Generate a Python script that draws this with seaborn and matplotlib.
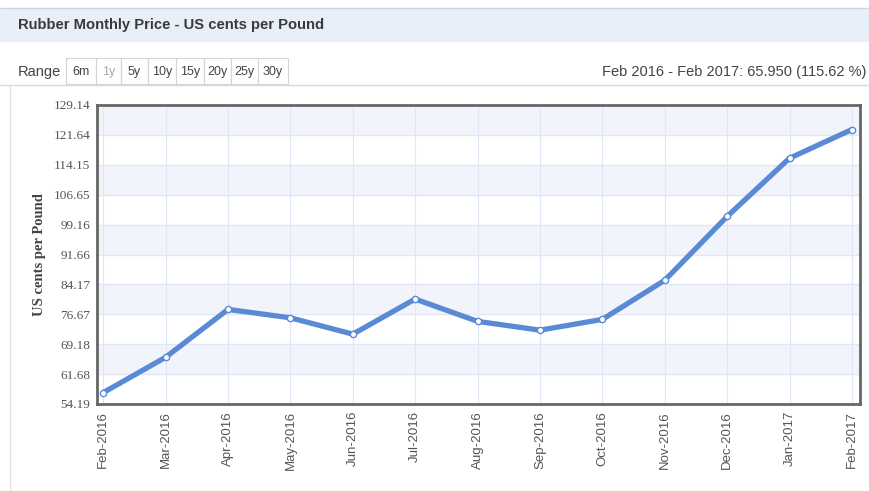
import pandas as pd
import numpy as np
import matplotlib.pyplot as plt
import seaborn as sns
from matplotlib.patches import Rectangle

months = ['Feb-2016', 'Mar-2016', 'Apr-2016', 'May-2016', 'Jun-2016', 'Jul-2016',
          'Aug-2016', 'Sep-2016', 'Oct-2016', 'Nov-2016', 'Dec-2016', 'Jan-2017', 'Feb-2017']
price = [57.04, 65.9, 77.9, 75.8, 71.7, 80.5, 74.9, 72.7, 75.4, 85.2, 101.2, 115.8, 122.99]
yticks = [54.19, 61.68, 69.18, 76.67, 84.17, 91.66, 99.16, 106.65, 114.15, 121.64, 129.14]
ranges = ['6m', '1y', '5y', '10y', '15y', '20y', '25y', '30y']

sns.set_style('white')
plt.rcParams['font.family'] = ['Liberation Sans', 'DejaVu Sans']

df = pd.DataFrame({'pos': np.arange(len(months)), 'price': price})

fig = plt.figure(figsize=(8.69, 4.91), dpi=100)

# header band
fig.patches.append(Rectangle((0, 1 - 42 / 491), 1, 34 / 491, transform=fig.transFigure,
                             facecolor='#e9eff9', edgecolor='none', zorder=0))
fig.add_artist(plt.Line2D([0, 1], [1 - 8 / 491] * 2, color='#c9d6ea', lw=1))
fig.text(18 / 869, 1 - 25 / 491, 'Rubber Monthly Price - US cents per Pound',
         fontsize=10.6, fontweight='bold', color='#3a3a3a', va='center')

# range selector
fig.text(18 / 869, 1 - 72 / 491, 'Range', fontsize=10.5, color='#444444', va='center')
xs = [66, 96, 121, 148, 176, 204, 231, 258, 288]
for i, lab in enumerate(ranges):
    x0, x1 = xs[i], xs[i + 1]
    fig.patches.append(Rectangle((x0 / 869, 1 - 84 / 491), (x1 - x0) / 869, 26 / 491,
                                 transform=fig.transFigure, facecolor='white',
                                 edgecolor='#d4d4d4', lw=0.8))
    fig.text((x0 + x1) / 2 / 869, 1 - 72 / 491, lab, fontsize=9, ha='center', va='center',
             color='#aaaaaa' if lab == '1y' else '#444444')
fig.text(866 / 869, 1 - 72 / 491, 'Feb 2016 - Feb 2017: 65.950 (115.62 %)',
         fontsize=10.5, color='#444444', ha='right', va='center')
fig.add_artist(plt.Line2D([0, 1], [1 - 85 / 491] * 2, color='#d8d8d8', lw=1))
fig.add_artist(plt.Line2D([10 / 869] * 2, [0, 1 - 85 / 491], color='#e2e2e2', lw=1))

ax = fig.add_axes([97 / 869, 1 - 404 / 491, 763 / 869, 299 / 491])

# alternating bands
for i in range(len(yticks) - 1):
    if (len(yticks) - 2 - i) % 2 == 0:
        ax.axhspan(yticks[i], yticks[i + 1], color='#f1f4fa', zorder=0)

sns.lineplot(data=df, x='pos', y='price', ax=ax, color='#5a8ad6', lw=3.8,
             marker='o', markersize=4.5, markerfacecolor='white',
             markeredgecolor='#5a8ad6', markeredgewidth=1, zorder=3)

ax.set_xlim(-0.1, len(months) - 1 + 0.13)
ax.set_ylim(yticks[0], yticks[-1])
ax.set_xticks(df['pos'])
ax.set_xticklabels(months, rotation=90, fontsize=9.5, color='#555555')
ax.set_yticks(yticks)
ax.set_yticklabels([f'{v:.2f}' for v in yticks], fontsize=9.5, color='#555555',
                   family='Liberation Serif')
ax.grid(True, color='#dfe7f7', lw=0.8)
ax.set_axisbelow(True)
ax.set_xlabel('')
ax.set_ylabel('US cents per Pound', fontsize=10.5, fontweight='bold', color='#444444',
              family='Liberation Serif', labelpad=5)
ax.tick_params(axis='both', length=0, pad=5)
for s in ax.spines.values():
    s.set_color('#666666')
    s.set_linewidth(2)

fig.savefig('out.png', dpi=100)
